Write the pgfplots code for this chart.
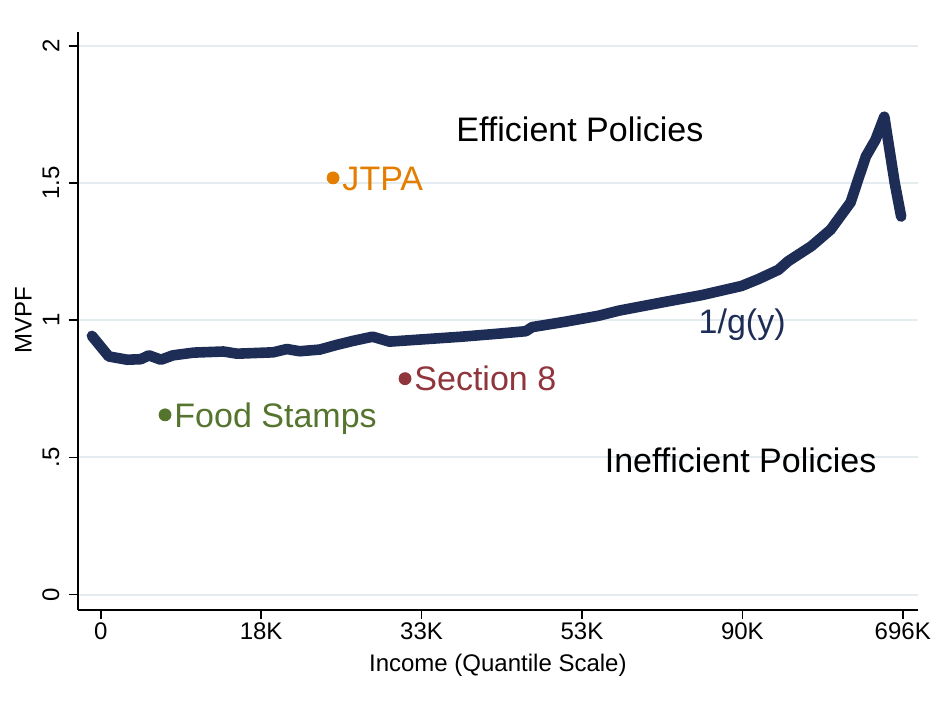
\documentclass[border=0pt]{standalone}
\usepackage{fontspec}
\setmainfont{Liberation Sans}
\usepackage{pgfplots}
\pgfplotsset{compat=1.18}
\definecolor{lnavy}{RGB}{30,45,85}
\definecolor{sorange}{RGB}{227,126,0}
\definecolor{smaroon}{RGB}{144,53,59}
\definecolor{sgreen}{RGB}{85,117,47}
\definecolor{sgrid}{RGB}{228,236,240}
\begin{document}
\begin{tikzpicture}
\begin{axis}[name=ax, scale only axis, width=420pt, height=288.8pt,
 xmin=-2.87, xmax=101.9, ymin=-0.0547, ymax=2.052,
 axis lines=left, axis line style={-, line width=1pt, black},
 xtick={0,20,40,60,80,100}, xticklabels={0,18K,33K,53K,90K,696K},
 ytick={0,0.5,1,1.5,2}, yticklabels={0,.5,1,1.5,2},
 tick align=outside, major tick length=4.5pt, tick style={black, line width=0.8pt},
 ymajorgrids, grid style={sgrid, line width=1pt},
 /pgf/number format/assume math mode=true,
 ticklabel style={font=\fontsize{12}{14}\selectfont},
 xticklabel style={anchor=north, inner sep=0pt, yshift=-2pt},
 yticklabel style={xshift=-4.5pt, rotate=90, anchor=south, inner sep=0pt},
 xlabel={Income (Quantile Scale)}, ylabel={MVPF},
 every axis x label/.style={at={(axis description cs:0.5,-0.0757)}, anchor=north, inner sep=0pt, font=\fontsize{12}{14}\selectfont},
 every axis y label/.style={at={(axis description cs:-0.0544,0.5)}, anchor=south, rotate=90, inner sep=0pt, font=\fontsize{12}{14}\selectfont},
]
\addplot[lnavy, line width=5.3pt, line join=round, line cap=round] coordinates {
(-1.1,0.943) (1,0.868) (3.3,0.856) (5,0.858) (6,0.872) (7.5,0.856) (9,0.872)
(11.6,0.882) (15.3,0.886) (17,0.878) (21.5,0.883) (23.2,0.895) (24.8,0.887)
(27.3,0.893) (29.4,0.91) (31.5,0.925) (33.9,0.94) (36,0.922) (40,0.93)
(45,0.94) (50,0.952) (53,0.960) (53.8,0.975) (58,0.995) (62,1.016)
(64.6,1.035) (70,1.065) (75,1.092) (79.9,1.125) (82,1.150) (84.5,1.184)
(85.7,1.215) (88.6,1.27) (91,1.33) (93.5,1.43) (94.4,1.51) (95.4,1.597)
(96.6,1.658) (97.7,1.742) (99,1.5) (99.8,1.378)
};
\addplot[only marks, mark=*, mark size=3pt, sorange, nodes near coords={JTPA},
 every node near coord/.style={anchor=base west, xshift=4.5pt, yshift=-6.1pt, inner sep=0pt, font=\fontsize{17}{20}\selectfont, text=sorange}]
 coordinates {(28.97,1.519)};
\addplot[only marks, mark=*, mark size=3pt, smaroon, nodes near coords={Section 8},
 every node near coord/.style={anchor=base west, xshift=4.5pt, yshift=-6.1pt, inner sep=0pt, font=\fontsize{17}{20}\selectfont, text=smaroon}]
 coordinates {(37.94,0.787)};
\addplot[only marks, mark=*, mark size=3pt, sgreen, nodes near coords={Food Stamps},
 every node near coord/.style={anchor=base west, xshift=4.5pt, yshift=-6.1pt, inner sep=0pt, font=\fontsize{17}{20}\selectfont, text=sgreen}]
 coordinates {(8.02,0.655)};
\node[anchor=base west, inner sep=0pt, font=\fontsize{17}{20}\selectfont] at (axis cs:44.3,1.652) {Efficient Policies};
\node[anchor=base west, inner sep=0pt, font=\fontsize{17}{20}\selectfont] at (axis cs:62.8,0.446) {Inefficient Policies};
\node[anchor=base west, inner sep=0pt, font=\fontsize{17}{20}\selectfont, text=lnavy] at (axis cs:74.5,0.952) {1/g(y)};
\end{axis}
\pgfresetboundingbox
\path ([shift={(-38.85pt,-46.85pt)}]ax.south west) rectangle ([shift={(9pt,15.85pt)}]ax.north east);
\end{tikzpicture}
\end{document}
